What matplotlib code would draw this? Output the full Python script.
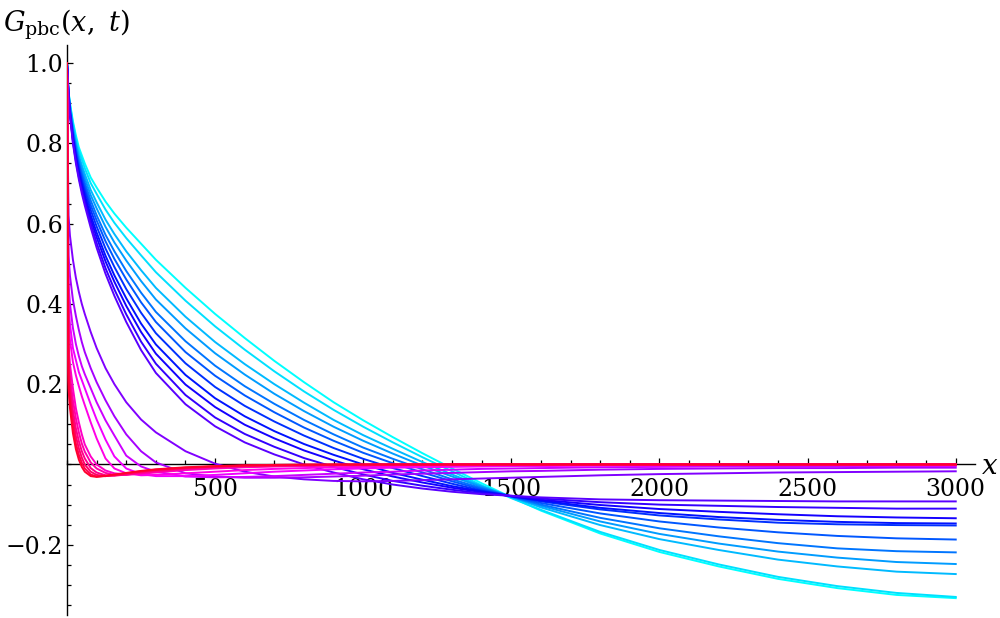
import matplotlib
matplotlib.use("Agg")
import matplotlib.pyplot as plt
from matplotlib.colors import hsv_to_rgb
from matplotlib.ticker import FixedLocator, MultipleLocator


# ==========================
# DATA
# ==========================

x_grid = [0, 5, 10, 20, 30, 40, 50, 60, 80, 100, 130, 160, 200, 250, 300,
          400, 500, 600, 700, 800, 900, 1000, 1100, 1200, 1300, 1400, 1500,
          1600, 1800, 2000, 2200, 2400, 2600, 2800, 3000]

# slow curves, cyan -> violet
c01 = [1.0, 0.93, 0.90, 0.855, 0.82, 0.79, 0.77, 0.75, 0.715, 0.69, 0.655, 0.625, 0.59, 0.55, 0.51,
       0.44, 0.375, 0.315, 0.258, 0.205, 0.155, 0.11, 0.068, 0.028, -0.01, -0.047, -0.082,
       -0.115, -0.172, -0.218, -0.254, -0.285, -0.308, -0.325, -0.333]
c02 = [1.0, 0.929, 0.897, 0.849, 0.812, 0.781, 0.76, 0.738, 0.701, 0.674, 0.635, 0.602, 0.564, 0.521, 0.479,
       0.408, 0.344, 0.286, 0.232, 0.182, 0.136, 0.094, 0.055, 0.018, -0.017, -0.052, -0.084,
       -0.113, -0.168, -0.213, -0.249, -0.28, -0.303, -0.32, -0.33]
c03 = [1.0, 0.928, 0.893, 0.841, 0.803, 0.77, 0.746, 0.724, 0.684, 0.653, 0.61, 0.574, 0.531, 0.484, 0.44,
       0.368, 0.305, 0.25, 0.2, 0.154, 0.111, 0.073, 0.039, 0.006, -0.025, -0.054, -0.081,
       -0.107, -0.151, -0.186, -0.213, -0.237, -0.254, -0.267, -0.273]
c04 = [1.0, 0.927, 0.89, 0.836, 0.796, 0.762, 0.737, 0.713, 0.671, 0.638, 0.592, 0.553, 0.508, 0.457, 0.411,
       0.339, 0.277, 0.224, 0.176, 0.133, 0.094, 0.059, 0.027, -0.003, -0.03, -0.056, -0.081,
       -0.103, -0.142, -0.173, -0.197, -0.217, -0.232, -0.243, -0.248]
c05 = [1.0, 0.925, 0.886, 0.83, 0.788, 0.753, 0.726, 0.702, 0.658, 0.621, 0.572, 0.531, 0.482, 0.428, 0.38,
       0.307, 0.246, 0.195, 0.151, 0.111, 0.075, 0.042, 0.014, -0.012, -0.037, -0.059, -0.08,
       -0.1, -0.133, -0.159, -0.179, -0.196, -0.209, -0.216, -0.219]
c06 = [1.0, 0.925, 0.884, 0.825, 0.782, 0.746, 0.718, 0.692, 0.646, 0.608, 0.556, 0.512, 0.461, 0.404, 0.355,
       0.28, 0.221, 0.172, 0.13, 0.092, 0.059, 0.029, 0.003, -0.02, -0.042, -0.062, -0.08,
       -0.096, -0.122, -0.142, -0.157, -0.169, -0.178, -0.184, -0.187]
c07 = [1.0, 0.924, 0.88, 0.819, 0.775, 0.738, 0.708, 0.682, 0.634, 0.593, 0.538, 0.492, 0.437, 0.378, 0.327,
       0.252, 0.193, 0.146, 0.107, 0.072, 0.041, 0.014, -0.009, -0.029, -0.048, -0.065, -0.079,
       -0.092, -0.112, -0.127, -0.137, -0.145, -0.149, -0.151, -0.152]
c08 = [1.0, 0.923, 0.878, 0.814, 0.768, 0.73, 0.699, 0.671, 0.621, 0.578, 0.52, 0.471, 0.414, 0.351, 0.299,
       0.223, 0.165, 0.12, 0.083, 0.051, 0.024, 0.0, -0.021, -0.038, -0.054, -0.067, -0.079,
       -0.09, -0.108, -0.121, -0.131, -0.138, -0.143, -0.146, -0.147]
c09 = [1.0, 0.922, 0.875, 0.809, 0.762, 0.724, 0.691, 0.663, 0.611, 0.566, 0.506, 0.455, 0.395, 0.33, 0.276,
       0.199, 0.143, 0.099, 0.065, 0.035, 0.01, -0.012, -0.03, -0.045, -0.058, -0.069, -0.079,
       -0.088, -0.101, -0.111, -0.118, -0.124, -0.129, -0.132, -0.134]
c10 = [1.0, 0.921, 0.872, 0.804, 0.756, 0.716, 0.683, 0.653, 0.6, 0.552, 0.489, 0.436, 0.374, 0.306, 0.251,
       0.173, 0.117, 0.076, 0.044, 0.016, -0.006, -0.025, -0.041, -0.053, -0.063, -0.072, -0.078,
       -0.085, -0.094, -0.1, -0.103, -0.106, -0.108, -0.11, -0.11]
c11 = [1.0, 0.92, 0.87, 0.80, 0.75, 0.71, 0.675, 0.645, 0.59, 0.54, 0.475, 0.42, 0.355, 0.285, 0.228,
       0.15, 0.095, 0.055, 0.025, 0.0, -0.02, -0.037, -0.05, -0.06, -0.068, -0.074, -0.078,
       -0.082, -0.087, -0.089, -0.09, -0.091, -0.092, -0.092, -0.092]

# fast curves, purple -> red (they leave the axis well below 1)
c12 = [1.0, 0.62, 0.57, 0.51, 0.465, 0.43, 0.40, 0.375, 0.33, 0.29, 0.24, 0.2, 0.155, 0.112, 0.08,
       0.033, 0.002, -0.018, -0.03, -0.037, -0.041, -0.042, -0.041, -0.039, -0.037, -0.035, -0.033,
       -0.031, -0.027, -0.024, -0.022, -0.02, -0.019, -0.018, -0.017]
c13 = [1.0, 0.52, 0.47, 0.41, 0.37, 0.335, 0.305, 0.28, 0.24, 0.205, 0.16, 0.12, 0.075, 0.033, 0.005,
       -0.022, -0.03, -0.033, -0.033, -0.032, -0.03, -0.028, -0.025, -0.023, -0.021, -0.019, -0.017,
       -0.016, -0.013, -0.011, -0.01, -0.009, -0.009, -0.008, -0.008]
c14 = [1.0, 0.45, 0.40, 0.34, 0.30, 0.27, 0.245, 0.225, 0.19, 0.155, 0.11, 0.072, 0.022, -0.005, -0.018,
       -0.03, -0.032, -0.031, -0.029, -0.026, -0.023, -0.02, -0.018, -0.015, -0.013, -0.011, -0.01,
       -0.009, -0.007, -0.006, -0.005, -0.005, -0.004, -0.004, -0.004]
c15 = [1.0, 0.40, 0.35, 0.29, 0.26, 0.23, 0.21, 0.19, 0.15, 0.112, 0.062, 0.02, -0.01, -0.024, -0.029,
       -0.029, -0.026, -0.022, -0.018, -0.015, -0.012, -0.01, -0.008, -0.007, -0.006, -0.005, -0.004,
       -0.004, -0.003, -0.003, -0.002, -0.002, -0.002, -0.002, -0.002]
c16 = [1.0, 0.36, 0.31, 0.255, 0.222, 0.195, 0.17, 0.148, 0.105, 0.065, 0.015, -0.01, -0.022, -0.027, -0.026,
       -0.022, -0.018, -0.014, -0.011, -0.009, -0.007, -0.006, -0.005, -0.004, -0.003, -0.003, -0.002,
       -0.002, -0.001, -0.001, -0.001, 0.0, 0.0, 0.0, 0.0]
c17 = [1.0, 0.30, 0.25, 0.19, 0.14, 0.105, 0.075, 0.05, 0.02, 0.0, -0.015, -0.022, -0.025, -0.023, -0.02,
       -0.014, -0.01, -0.007, -0.005, -0.004, -0.003, -0.002, -0.002, -0.001, -0.001, 0.0, 0.0,
       0.0, 0.001, 0.0, 0.0, 0.0, 0.0, 0.0, 0.0]
c18 = [1.0, 0.27, 0.22, 0.16, 0.115, 0.08, 0.052, 0.032, 0.005, -0.01, -0.021, -0.026, -0.026, -0.022, -0.018,
       -0.012, -0.008, -0.005, -0.004, -0.003, -0.002, -0.002, -0.001, -0.001, 0.0, 0.0, 0.0,
       0.0, 0.0, 0.001, 0.0, 0.0, 0.0, -0.001, -0.001]
c19 = [1.0, 0.25, 0.20, 0.135, 0.09, 0.058, 0.033, 0.015, -0.009, -0.02, -0.027, -0.028, -0.025, -0.02, -0.016,
       -0.01, -0.006, -0.004, -0.003, -0.002, -0.001, -0.001, 0.0, 0.0, 0.0, 0.0, 0.0,
       0.0, 0.0, 0.0, 0.0, 0.0, 0.0, 0.0, 0.0]
c20 = [1.0, 0.23, 0.18, 0.115, 0.07, 0.04, 0.017, 0.0, -0.018, -0.026, -0.029, -0.027, -0.023, -0.018, -0.014,
       -0.009, -0.005, -0.003, -0.002, -0.001, -0.001, 0.0, 0.0, 0.0, 0.0, 0.0, 0.0,
       0.0, 0.0, 0.0, 0.0, 0.0, 0.0, 0.0, 0.0]
c21 = [1.0, 0.21, 0.16, 0.095, 0.052, 0.024, 0.004, -0.01, -0.025, -0.03, -0.029, -0.026, -0.022, -0.017, -0.013,
       -0.008, -0.005, -0.003, -0.002, -0.001, 0.0, 0.0, 0.0, 0.0, 0.0, 0.0, 0.0,
       0.0, 0.0, 0.0, 0.0, 0.0, 0.0, 0.0, 0.0]
c22 = [1.0, 0.19, 0.14, 0.078, 0.038, 0.012, -0.006, -0.018, -0.029, -0.031, -0.028, -0.025, -0.021, -0.016, -0.012,
       -0.007, -0.004, -0.002, -0.001, 0.0, 0.0, 0.0, 0.0, 0.0, 0.0, 0.0, 0.0,
       0.0, 0.0, 0.0, 0.0, 0.0, 0.0, 0.0, 0.0]

curves = [c01, c02, c03, c04, c05, c06, c07, c08, c09, c10, c11,
          c12, c13, c14, c15, c16, c17, c18, c19, c20, c21, c22]

x_ticks = [500, 1000, 1500, 2000, 2500, 3000]
y_ticks = [-0.2, 0.2, 0.4, 0.6, 0.8, 1.0]
y_tick_labels = ["\u22120.2", "0.2", "0.4", "0.6", "0.8", "1.0"]


# ==========================
# STYLE
# ==========================

hues = [0.5, 0.52, 0.545, 0.565, 0.59, 0.61, 0.635, 0.655, 0.68, 0.70, 0.725,
        0.75, 0.775, 0.80, 0.825, 0.85, 0.87, 0.89, 0.91, 0.93, 0.95, 0.97]

plt.rcParams["font.family"] = "DejaVu Serif"
plt.rcParams["mathtext.fontset"] = "dejavuserif"


# ==========================
# PLOT
# ==========================

fig = plt.figure(figsize=(10, 6.18), dpi=100)
ax = fig.add_axes([0.067, 3 / 618, 0.908, 570 / 618])

for y_vals, h in zip(curves, hues):
    ax.plot(x_grid, y_vals, color=hsv_to_rgb((h, 1.0, 1.0)), lw=1.4,
            solid_joinstyle="round", zorder=3)

ax.set_xlim(0, 3065)
ax.set_ylim(-0.375, 1.045)

for side in ["top", "right"]:
    ax.spines[side].set_visible(False)
ax.spines["left"].set_position(("data", 0))
ax.spines["bottom"].set_position(("data", 0))
ax.spines["left"].set_linewidth(1.0)
ax.spines["bottom"].set_linewidth(1.0)

ax.xaxis.set_major_locator(FixedLocator(x_ticks))
ax.xaxis.set_minor_locator(MultipleLocator(100))
ax.yaxis.set_major_locator(FixedLocator(y_ticks))
ax.yaxis.set_minor_locator(MultipleLocator(0.05))
ax.set_yticklabels(y_tick_labels)

ax.tick_params(which="both", direction="in", width=0.9)
ax.tick_params(which="major", length=4.5)
ax.tick_params(which="minor", length=2.8)
ax.tick_params(axis="x", which="major", labelsize=17, pad=10)
ax.tick_params(axis="y", which="major", labelsize=17, pad=3)

fig.text(0.003, 1 - 32 / 618, r"$G_{\mathrm{pbc}}(x,\ t)$", fontsize=19.5,
         ha="left", va="baseline")
fig.text(0.99, 1 - 467 / 618, r"$x$", fontsize=20, ha="center", va="center")

fig.savefig("out.png", dpi=100, facecolor="white")
